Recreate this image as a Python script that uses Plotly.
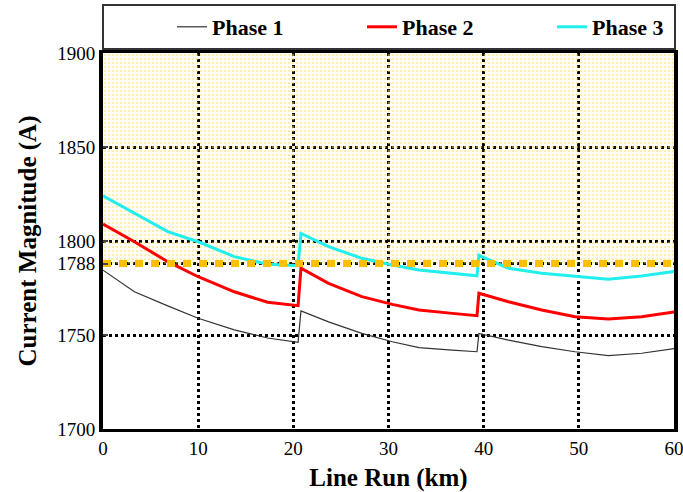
import plotly.graph_objects as go

# Distance along the line (km); the pairs around 20.5/20.8 and 39.3/39.5 are the step changes
km = [0, 3.3, 6.8, 10, 13.8, 17.3, 20.5, 20.8, 23.7, 27.2, 30.4, 33.2, 36.7,
      39.3, 39.5, 42.6, 46.1, 49.6, 53.1, 56.6, 60]

phase1 = [1784.5, 1773.0, 1765.5, 1758.9, 1752.7, 1748.4, 1746.1, 1762.8, 1757.0,
          1750.9, 1746.4, 1743.3, 1742.0, 1741.1, 1750.8, 1747.3, 1743.8, 1741.1,
          1739.0, 1740.3, 1742.8]
phase2 = [1809.0, 1799.6, 1789.0, 1781.0, 1773.0, 1767.4, 1765.6, 1785.5, 1777.5,
          1770.4, 1766.3, 1763.3, 1761.5, 1760.3, 1772.2, 1767.7, 1763.3, 1759.7,
          1758.5, 1759.7, 1762.2]
phase3 = [1824.0, 1814.7, 1805.0, 1799.6, 1791.7, 1787.6, 1786.9, 1804.0, 1797.0,
          1790.8, 1787.2, 1784.6, 1782.8, 1781.5, 1792.4, 1785.5, 1782.8, 1781.0,
          1779.6, 1781.4, 1783.8]

ampacity_limit = 1788
x_range = [0, 60]
y_range = [1700, 1900]
x_ticks = [0, 10, 20, 30, 40, 50, 60]
y_ticks = [1700, 1750, 1788, 1800, 1850, 1900]

serif = "Times New Roman, Liberation Serif, DejaVu Serif, serif"

fig = go.Figure()

# Overload zone above the limit, dotted yellow
fig.add_trace(go.Scatter(
    x=[x_range[0], x_range[1], x_range[1], x_range[0], x_range[0]],
    y=[ampacity_limit, ampacity_limit, y_range[1], y_range[1], ampacity_limit],
    mode="none", fill="toself", fillcolor="rgba(0,0,0,0)",
    fillpattern=dict(shape=".", fgcolor="#FFDD66", bgcolor="rgba(0,0,0,0)",
                     size=4, solidity=0.35),
    showlegend=False, hoverinfo="skip"))

fig.add_trace(go.Scatter(x=km, y=phase1, mode="lines", name="Phase 1",
                         line=dict(color="#333333", width=1.2)))
fig.add_trace(go.Scatter(x=km, y=phase2, mode="lines", name="Phase 2",
                         line=dict(color="#FF0000", width=3)))
fig.add_trace(go.Scatter(x=km, y=phase3, mode="lines", name="Phase 3",
                         line=dict(color="#22EEEE", width=3)))

# Limit line drawn as square orange dots
fig.add_trace(go.Scatter(x=x_range, y=[ampacity_limit, ampacity_limit], mode="lines",
                         line=dict(color="#FFC000", width=7, dash="8px,8px"),
                         showlegend=False, hoverinfo="skip"))

fig.update_layout(
    width=683, height=492,
    margin=dict(l=103, r=9, t=53, b=63, autoexpand=False),
    paper_bgcolor="white", plot_bgcolor="white",
    font=dict(family=serif, color="black", size=19),
    legend=dict(orientation="h", x=-0.00175, xanchor="left", y=1.008, yanchor="bottom",
                bordercolor="#333333", borderwidth=2,
                font=dict(family=serif, size=22, color="black", weight="bold"),
                entrywidth=77, entrywidthmode="pixels", indentation=68,
                tracegroupgap=0),
    xaxis=dict(range=x_range, tickvals=x_ticks, showgrid=True,
               gridcolor="black", gridwidth=3, griddash="dot",
               showline=True, mirror=True, linecolor="black", linewidth=3,
               ticks="", zeroline=False, ticklabeloverflow="allow",
               tickfont=dict(family=serif, size=19),
               title=dict(text="<b>Line Run (km)</b>",
                          font=dict(family=serif, size=25), standoff=13)),
    yaxis=dict(range=y_range, tickvals=y_ticks, showgrid=True,
               gridcolor="black", gridwidth=3, griddash="dot",
               showline=True, mirror=True, linecolor="black", linewidth=4,
               ticks="inside", ticklen=5, tickwidth=2, zeroline=False,
               ticklabeloverflow="allow",
               tickfont=dict(family=serif, size=19),
               title=dict(text="<b>Current Magnitude (A)</b>",
                          font=dict(family=serif, size=25), standoff=14)),
)

fig.write_html("out.html")
